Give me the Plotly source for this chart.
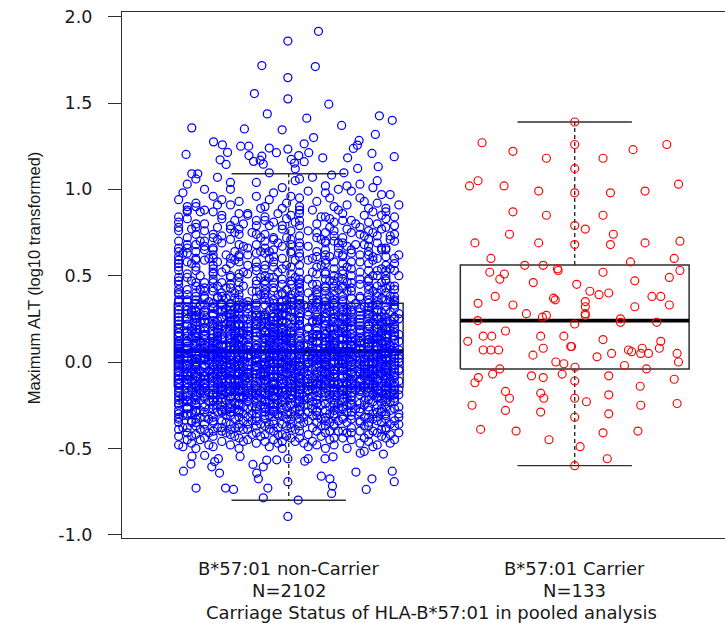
import plotly.graph_objects as go

# ---------------------------------------------------------------- data
categories = ["B*57:01 non-Carrier", "B*57:01 Carrier"]
group_sizes = [2102, 133]
x_title = "Carriage Status of HLA-B*57:01 in pooled analysis"
y_title = "Maximum ALT (log10 transformed)"

y_tick_values = [-1.0, -0.5, 0.0, 0.5, 1.0, 1.5, 2.0]
y_tick_labels = ["-1.0", "-0.5", "0.0", "0.5", "1.0", "1.5", "2.0"]

# box-plot summaries per group
box_lower_whisker = [-0.80, -0.60]
box_q1 = [-0.145, -0.04]
box_median = [0.063, 0.24]
box_q3 = [0.341, 0.562]
box_upper_whisker = [1.09, 1.39]

# carriers: log10 ALT and horizontal jitter
carrier_alt = [
    1.39, 1.27, 1.26, 1.26, 1.22, 1.23, 1.18, 1.18, 1.12, 1.05,
    1.02, 1.02, 0.99, 0.98, 0.98, 0.99, 1.03, 0.87, 0.85, 0.85,
    0.79, 0.77, 0.74, 0.74, 0.69, 0.69, 0.68, 0.68, 0.69, 0.70,
    0.60, 0.60, 0.58, 0.56, 0.56, 0.54, 0.52, 0.51, 0.48, 0.52,
    0.53, 0.49, 0.46, 0.45, 0.47, 0.41, 0.39, 0.40, 0.34, 0.38,
    0.33, 0.37, 0.36, 0.35, 0.32, 0.38, 0.38, 0.33, 0.32, 0.28,
    0.26, 0.27, 0.28, 0.27, 0.24, 0.22, 0.25, 0.23, 0.23, 0.12,
    0.15, 0.15, 0.18, 0.15, 0.15, 0.09, 0.09, 0.13, 0.12, 0.07,
    0.07, 0.07, 0.08, 0.04, 0.03, 0.05, 0.07, 0.06, 0.08, 0.05,
    0.05, 0.08, 0.05, 0.00, 0.00, -0.01, -0.02, -0.07, -0.04, -0.03,
    -0.04, -0.08, -0.09, -0.07, -0.09, -0.12, -0.11, -0.08, -0.10, -0.14,
    -0.17, -0.21, -0.18, -0.21, -0.21, -0.23, -0.19, -0.25, -0.28, -0.29,
    -0.30, -0.25, -0.24, -0.32, -0.39, -0.40, -0.41, -0.40, -0.45, -0.49,
    -0.56, -0.60, 0.53,
]
carrier_jitter = [
    0.000, -0.324, 0.000, 0.322, -0.216, 0.204, -0.099, 0.099, 0.000, -0.338,
    -0.368, -0.247, -0.126, 0.000, 0.125, 0.246, 0.363, -0.216, -0.099, 0.099,
    0.000, 0.037, -0.228, 0.135, -0.349, -0.126, 0.000, 0.125, 0.246, 0.368,
    -0.293, 0.348, 0.195, -0.175, -0.110, -0.060, -0.297, -0.246, -0.262, 0.099,
    0.368, 0.331, -0.145, 0.007, 0.210, 0.053, 0.085, 0.119, -0.338, -0.278,
    -0.216, -0.074, -0.068, 0.037, 0.037, 0.270, 0.301, 0.331, 0.210, -0.169,
    -0.113, -0.099, 0.037, 0.037, -0.339, 0.000, 0.160, 0.160, 0.287, -0.374,
    -0.320, -0.290, -0.242, -0.119, -0.038, -0.014, -0.011, 0.099, 0.301, -0.320,
    -0.293, -0.266, -0.110, -0.146, 0.078, 0.129, 0.188, 0.199, 0.236, 0.231,
    0.258, 0.296, 0.358, 0.363, -0.066, -0.038, 0.174, -0.287, -0.262, 0.001,
    0.251, -0.151, -0.110, -0.044, -0.337, -0.349, 0.000, 0.119, 0.348, 0.229,
    -0.242, -0.228, -0.119, -0.108, 0.000, 0.041, 0.119, -0.359, -0.242, -0.119,
    0.119, 0.231, 0.358, 0.000, -0.329, -0.205, 0.099, 0.221, -0.090, 0.019,
    0.114, 0.000, -0.058,
]

# non-carriers, high tail listed one by one
noncarrier_high_alt = [
    1.915, 1.859, 1.717, 1.711, 1.647, 1.555, 1.524, 1.493, 1.437, 1.412,
    1.426, 1.400, 1.356, 1.350, 1.345, 1.370, 1.318, 1.300, 1.275, 1.258,
    1.283, 1.256, 1.250, 1.250, 1.239, 1.233, 1.264, 1.214, 1.237, 1.208,
    1.202, 1.189, 1.196, 1.192, 1.212, 1.196, 1.212, 1.169, 1.171, 1.173,
    1.183, 1.183, 1.144, 1.162, 1.146, 1.152, 1.160, 1.131, 1.121, 1.119,
    1.090, 1.090, 1.096, 1.096, 1.083,
]
noncarrier_high_jitter = [
    0.104, -0.003, -0.094, 0.093, -0.003, -0.120, -0.003, 0.140, -0.075, 0.063,
    0.317, 0.362, -0.339, -0.155, -0.023, 0.185, 0.303, 0.087, -0.263, -0.232,
    0.246, 0.240, -0.168, -0.140, -0.068, -0.003, 0.054, -0.214, 0.226, 0.291,
    -0.359, 0.369, -0.139, -0.094, -0.043, 0.035, 0.070, -0.100, -0.240, 0.009,
    0.119, 0.206, -0.219, -0.123, -0.089, 0.020, 0.054, 0.313, 0.241, 0.023,
    -0.339, -0.318, -0.068, 0.193, 0.150,
]

# non-carriers, low tail listed one by one
noncarrier_low_alt = [
    -0.894, -0.786, -0.799, -0.730, -0.730, -0.738, -0.730, -0.761, -0.718, -0.676,
    -0.661, -0.738, -0.676, -0.637, -0.632, -0.693, -0.693, -0.632, -0.591, -0.643,
    -0.676, -0.643, -0.607, -0.576, -0.541, -0.545, -0.607, -0.593, -0.568, -0.566,
    -0.560, -0.574, -0.560, -0.560, -0.549, -0.528, -0.518, -0.533, -0.560, -0.547,
]
noncarrier_low_jitter = [
    -0.003, -0.089, 0.033, -0.324, -0.221, -0.193, -0.073, 0.150, 0.153, 0.144,
    0.114, 0.271, 0.291, 0.235, 0.362, 0.369, -0.003, -0.368, -0.342, -0.242,
    -0.106, -0.112, -0.269, -0.259, -0.294, -0.338, -0.089, -0.125, -0.077, -0.042,
    -0.003, 0.056, 0.068, 0.127, 0.155, 0.250, 0.264, 0.331, -0.246, -0.170,
]

# non-carriers, bulk: each ALT level with the jitter slots of its points.
# Slots run left to right in the order a A b B c C ... z Z; within a row the
# entries alternate between the level and the level plus 0.01.
jitter_slot_codes = "aAbBcCdDeEfFgGhHiIjJkKlLmMnNoOpPqQrRsStTuUvVwWxXyYzZ"
level_half_step = 0.01
noncarrier_levels = [
    -0.50, -0.48, -0.46, -0.44, -0.42, -0.40, -0.38, -0.36, -0.34, -0.32,
    -0.30, -0.28, -0.26, -0.24, -0.22, -0.20, -0.18, -0.16, -0.14, -0.12,
    -0.10, -0.08, -0.06, -0.04, -0.02, 0.00, 0.02, 0.04, 0.06, 0.08,
    0.10, 0.12, 0.14, 0.16, 0.18, 0.20, 0.22, 0.24, 0.26, 0.28,
    0.30, 0.32, 0.34, 0.36, 0.38, 0.40, 0.42, 0.44, 0.46, 0.48,
    0.50, 0.52, 0.54, 0.56, 0.58, 0.60, 0.62, 0.64, 0.66, 0.68,
    0.70, 0.72, 0.74, 0.76, 0.78, 0.80, 0.82, 0.84, 0.86, 0.88,
    0.90, 0.92, 0.94, 0.96, 0.98, 1.00, 1.02, 1.04, 1.06,
]
noncarrier_slots = [
    "cKrAhWmpTe",
    "xBgLqvDjaOsY",
    "fRkuHbNzmCwiPl",
    "tGoXdJyMnaVehQsB",
    "kZpDwFcuLrIxgTmjYb",
    "eNqHvaSyoKfCtXlgWdRi",
    "uMbzPjEwhQnrAcGkyVfoLs",
    "dTiXmBgqZaKvsOheYcJwnRlF",
    "pGxkSarDvMjyBnfWlcHtIoeQzu",
    "hLwbVqdNtgZsjAxFrkOyemCuiPaK",
    "yEnfRcWlaTjvHpbXodMgZkIusqBhLx",
    "rDmkYgCtaPwjFeNzsbKvhUlXoiqGcSf",
    "bQoJwnHxgEkcZuyTdmRalVfsIpjOteMh",
    "sNcfXkgBuWazLmhDqyrPjeGovtKiSbnYlA",
    "mhFtVzaRkdqJcXwpEgoyLnbTuisHejCxKfOl",
    "aWgyOkcMrtPelIxfbZdvHsqnAjuGmEwzhRoTiKYc",
    "oqDvjBxnSgkwFcrLzmYtaIupNhelWsQfbGdJyKimCvXa",
    "xkPbeRgwzNtjoHfdCqyVlmEasuTnKiUcGrhOpWvBLfZyjsMd",
    "jTemvSgazHcQpwykFrXdLboNfqiUtEhYxlGsVncWKdPu",
    "pcXhoMsrdBqGlwzFyJanTkuEbviWfjRgCxmePOtlaZhkSY",
    "wKnyaDgtuPbqoLmHrjEsfVkcxzYIhWdeGlbiQNvopTaCmR",
    "gbRkdxVqyMfhcjJsUrnTzpaEliWvoFkXtGbwHsemQYdNcuAi",
    "zsJmuHeKvgaTrCbykoXpfQhnwLdjOtiEcFVlqZgxMsBDyaRW",
    "fqBlhyXtvRndkgWSmazjEcPoiuKHbrxLwMfAseVGtnyjOcZp",
    "kUomxDbgjsFtepVcyraWhlNqzKdJiwGbfvTXuSnkEaMhcYoLrQ",
    "aHrtnjGvwqkXcEzbmdPyIflSuhoBrgVLexWasKjYcMpFitNDuqZ",
    "qePwzuTldaCmkgOryHjbXsviFncUhxMtQpZfoEyKrgbLWdaSjlV",
    "tbZyoKcufEmrXsgvkPiwqlDaHjhNzTxBnGedRyWaQcslMuFo",
    "mLcwsGahXeunBqfozJtkIvPgdYrxEjylSbTimKcZpNwRaHe",
    "vRdoaYjxMhqkUcsgzFewTbnlPiyDrtGmCuKfXoHwjSbaE",
    "hbKwpzRnuGaqjXfetLycMkdVosrCigOmYvlxTEjDsWua",
    "cnXgatPkvwHdqzrUbmLfyEsjolZhGxeRuiKwCpbTnMa",
    "yGsmfakQxbvdTjhcPwnoWzrLuEgXtiKlepBqMycdRa",
    "uaMlrcZkyhwEgtJnsbqvPodXfKixHmezTjWaGclSr",
    "kEqfovYgbcrmXtHwdaLjnzSuipGyMsklBxhCeFvR",
    "dwTjmuBhaokXqgzcNvlfRrYeiHsbxKpGtwnEyJ",
    "rcjgFuxSbmzkeWhqoDaytMlvnPiCwdLsgXjTh",
    "oHykdbPwgQrfuTavjZecmxNsliKhqGozYbEt",
    "gpXmcJuwfkLeavrStdohzBqjyWnFxIlckMs",
    "wLaqevCngYotjBkxhRmfsuGdZpiTrclNbX",
    "nexTjhsFgmbrKvaoyQwzdlEicGuPtMfhB",
    "bjVruklzHsadwOqxeMgnpCtiyhRfLomW",
    "qmfYsioKcxgbUzlrHawteDjnP",
    "zGsjcEarlXhkovbPwuMnqFtdy",
    "fkYaoqRwthcJvnzLdbgsEmx",
    "mWcjxlGeaTkspuqIfdyoNr",
    "aoSthuwFkyMlbdXrzeqgC",
    "wqEncjYarkHmtozgsPxv",
    "ljeBuwXsfacRoydkTnh",
    "tNyhrgmKwaoJvbelpS",
    "gbCiuqWeknZtxryhs",
    "ryHaexLzojfcPwvt",
    "ucFjsnXlmTeqkaY",
    "eaMtkrygQwoBiz",
    "sWhcbNudlGvpjaEr",
    "xlKyeqDaztgRmocWPh",
    "hjtnZbiSvkwoFueAr",
    "nXauqdGlcrJyweK",
    "kdyHbmewSpiTaoX",
    "boUtjfVrhxcLnS",
    "rgCnawkQzlsEdY",
    "lsbYtoMfexJVq",
    "eqjWcrkIvuhGz",
    "pXwhdTngaBsm",
    "vjaKyoRmczEg",
    "caHldsUwqNx",
    "tMobjyGfkRu",
    "zfkVaXrnQi",
    "oWhCietyLb",
    "dyPmSwbJo",
    "bTsgkEoZc",
    "xhMqcV",
    "aoKvfR",
    "nXeYj",
    "Aulpr",
    "gWdmS",
    "rbTv",
    "jNgx",
    "oPcE",
]

# ---------------------------------------------------------------- style
INK = "#2e2e2e"
TEXT = "#1a1a1a"
FONT = "DejaVu Sans"
LABEL_SIZE = 18
BOX_HALF = 0.4     # half width of a box in x units
CAP_HALF = 0.2     # half width of a whisker cap
JITTER_SPAN = 0.385

fig = go.Figure()

# boxes
for i in range(len(categories)):
    xc = i + 1
    lo, q1, med, q3, hi = (box_lower_whisker[i], box_q1[i], box_median[i],
                           box_q3[i], box_upper_whisker[i])
    fig.add_trace(go.Scatter(
        x=[xc, xc, None, xc, xc], y=[q3, hi, None, q1, lo],
        mode="lines", line=dict(color=INK, width=1.4, dash="4px,3px"),
        hoverinfo="skip", showlegend=False))
    fig.add_trace(go.Scatter(
        x=[xc - CAP_HALF, xc + CAP_HALF, None, xc - CAP_HALF, xc + CAP_HALF],
        y=[hi, hi, None, lo, lo],
        mode="lines", line=dict(color=INK, width=1.4),
        hoverinfo="skip", showlegend=False))
    fig.add_trace(go.Scatter(
        x=[xc - BOX_HALF, xc + BOX_HALF, xc + BOX_HALF, xc - BOX_HALF, xc - BOX_HALF],
        y=[q1, q1, q3, q3, q1],
        mode="lines", line=dict(color=INK, width=1.5),
        hoverinfo="skip", showlegend=False))
    fig.add_trace(go.Scatter(
        x=[xc - BOX_HALF, xc + BOX_HALF], y=[med, med],
        mode="lines", line=dict(color="#000000", width=3.6),
        hoverinfo="skip", showlegend=False))

# non-carrier points
n_slots = len(jitter_slot_codes)
nc_x, nc_y = [], []
for level, slots in zip(noncarrier_levels, noncarrier_slots):
    for pos, ch in enumerate(slots):
        k = jitter_slot_codes.index(ch)
        nc_x.append(1 - JITTER_SPAN + 2 * JITTER_SPAN * k / (n_slots - 1))
        nc_y.append(level + (level_half_step if pos % 2 else 0.0))
for v, j in zip(noncarrier_high_alt + noncarrier_low_alt,
                noncarrier_high_jitter + noncarrier_low_jitter):
    nc_x.append(1 + j)
    nc_y.append(v)

fig.add_trace(go.Scatter(
    x=nc_x, y=nc_y, mode="markers", name=categories[0],
    marker=dict(symbol="circle-open", size=8, color="#0000ff",
                line=dict(width=1.25, color="#0000ff")),
    showlegend=False))

# carrier points
fig.add_trace(go.Scatter(
    x=[2 + j for j in carrier_jitter], y=carrier_alt, mode="markers",
    name=categories[1],
    marker=dict(symbol="circle-open", size=8, color="#ff0000",
                line=dict(width=1.15, color="#ff0000")),
    showlegend=False))

# category labels with group sizes, then the axis title
annotations = []
for i, (name, n) in enumerate(zip(categories, group_sizes)):
    annotations.append(dict(x=i + 1, xref="x", y=-0.0589, yref="paper",
                            text=name, showarrow=False, xanchor="center",
                            yanchor="middle", borderpad=0,
                            font=dict(family=FONT, size=LABEL_SIZE, color=TEXT)))
    annotations.append(dict(x=i + 1, xref="x", y=-0.0998, yref="paper",
                            text=f"N={n}", showarrow=False, xanchor="center",
                            yanchor="middle", borderpad=0,
                            font=dict(family=FONT, size=LABEL_SIZE, color=TEXT)))
annotations.append(dict(x=1.5, xref="x", y=-0.1407, yref="paper",
                        text=x_title, showarrow=False, xanchor="center",
                        yanchor="middle", borderpad=0,
                        font=dict(family=FONT, size=LABEL_SIZE, color=TEXT)))
annotations.append(dict(x=-0.1459, xref="paper", y=0.494, yref="paper",
                        text=y_title, textangle=-90, showarrow=False,
                        xanchor="center", yanchor="middle",
                        font=dict(family="Liberation Sans", size=16.5, color=TEXT)))

fig.update_layout(
    width=725, height=623,
    margin=dict(l=122, r=0, t=12, b=85),
    paper_bgcolor="white", plot_bgcolor="white",
    showlegend=False,
    annotations=annotations,
    xaxis=dict(range=[0.417, 2.5255], showline=True, mirror=True,
               linecolor=INK, linewidth=1.3, showgrid=False, zeroline=False,
               showticklabels=False, ticks=""),
    yaxis=dict(range=[-1.019, 2.027], tickvals=y_tick_values,
               ticktext=y_tick_labels, ticks="outside", ticklen=13,
               tickwidth=1.3, tickcolor=INK, showline=True, linecolor=INK,
               linewidth=1.3, showgrid=False, zeroline=False,
               ticklabelstandoff=12,
               tickfont=dict(family=FONT, size=17.5, color=TEXT)),
)

fig.write_html("out.html")
